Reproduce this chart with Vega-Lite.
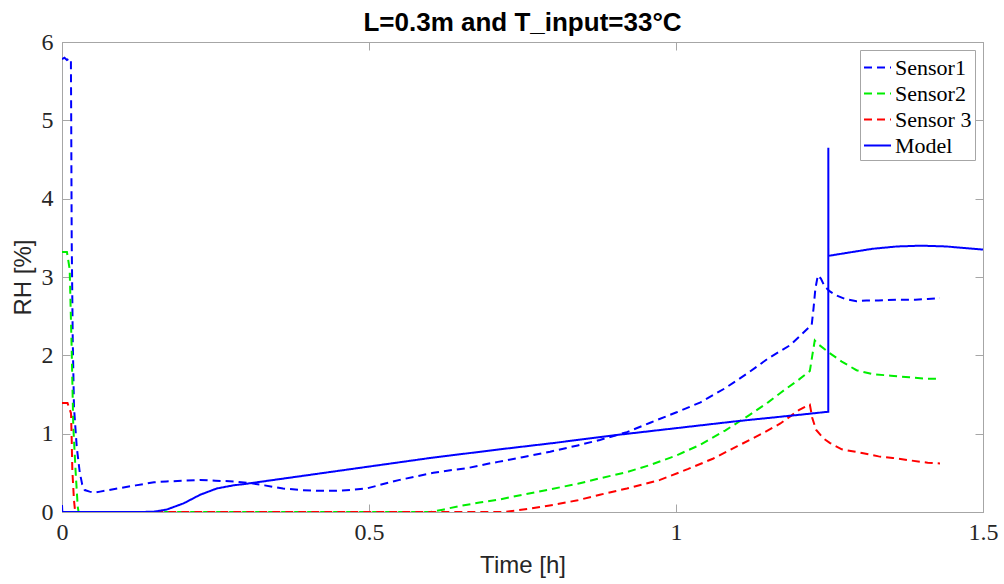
{
"$schema": "https://vega.github.io/schema/vega-lite/v6.json",
"width": 921, "height": 470,
"autosize": {"type": "none"},
"padding": {"left": 62, "top": 42, "right": 21, "bottom": 72},
"background": "white",
"title": {"text": "L=0.3m and T_input=33°C", "font": "Liberation Sans", "fontSize": 26, "fontWeight": "bold", "color": "#000000", "anchor": "middle", "offset": -6},
"config": {
  "view": {"stroke": "#a6a6a6", "strokeWidth": 1},
  "axis": {"grid": false, "domainColor": "#a6a6a6", "tickColor": "#a6a6a6", "tickSize": -8, "labelFont": "Liberation Serif", "labelFontSize": 24, "labelColor": "#262626", "labelFlush": false, "titleFont": "Liberation Sans", "titleFontSize": 24, "titleFontWeight": "normal", "titleColor": "#262626"},
  "legend": {"orient": "top-right", "offset": 8, "symbolType": "stroke", "symbolSize": 729, "symbolStrokeWidth": 2, "labelFont": "Liberation Serif", "labelFontSize": 22, "labelColor": "#000000", "strokeColor": "#a6a6a6", "fillColor": "white", "padding": 3, "rowPadding": 0, "labelOffset": 3}
},
"data": {"values": [
{"s":"Sensor1","t":0,"rh":5.78},{"s":"Sensor1","t":0.004,"rh":5.8},{"s":"Sensor1","t":0.008,"rh":5.77},{"s":"Sensor1","t":0.012,"rh":5.79},{"s":"Sensor1","t":0.0145,"rh":5.78},{"s":"Sensor1","t":0.015,"rh":5.0},{"s":"Sensor1","t":0.0158,"rh":3.47},{"s":"Sensor1","t":0.0175,"rh":2.2},{"s":"Sensor1","t":0.0195,"rh":1.34},{"s":"Sensor1","t":0.024,"rh":0.83},{"s":"Sensor1","t":0.029,"rh":0.5},{"s":"Sensor1","t":0.033,"rh":0.35},{"s":"Sensor1","t":0.037,"rh":0.28},{"s":"Sensor1","t":0.045,"rh":0.26},{"s":"Sensor1","t":0.054,"rh":0.25},{"s":"Sensor1","t":0.062,"rh":0.26},{"s":"Sensor1","t":0.09,"rh":0.3},{"s":"Sensor1","t":0.12,"rh":0.34},{"s":"Sensor1","t":0.15,"rh":0.38},{"s":"Sensor1","t":0.17,"rh":0.39},{"s":"Sensor1","t":0.2,"rh":0.4},{"s":"Sensor1","t":0.225,"rh":0.41},{"s":"Sensor1","t":0.25,"rh":0.4},{"s":"Sensor1","t":0.28,"rh":0.39},{"s":"Sensor1","t":0.306,"rh":0.37},{"s":"Sensor1","t":0.33,"rh":0.34},{"s":"Sensor1","t":0.36,"rh":0.3},{"s":"Sensor1","t":0.39,"rh":0.28},{"s":"Sensor1","t":0.415,"rh":0.27},{"s":"Sensor1","t":0.44,"rh":0.27},{"s":"Sensor1","t":0.469,"rh":0.28},{"s":"Sensor1","t":0.496,"rh":0.3},{"s":"Sensor1","t":0.52,"rh":0.35},{"s":"Sensor1","t":0.55,"rh":0.41},{"s":"Sensor1","t":0.58,"rh":0.46},{"s":"Sensor1","t":0.605,"rh":0.5},{"s":"Sensor1","t":0.63,"rh":0.53},{"s":"Sensor1","t":0.66,"rh":0.56},{"s":"Sensor1","t":0.69,"rh":0.61},{"s":"Sensor1","t":0.71,"rh":0.64},{"s":"Sensor1","t":0.75,"rh":0.7},{"s":"Sensor1","t":0.795,"rh":0.77},{"s":"Sensor1","t":0.84,"rh":0.85},{"s":"Sensor1","t":0.876,"rh":0.92},{"s":"Sensor1","t":0.92,"rh":1.02},{"s":"Sensor1","t":0.958,"rh":1.14},{"s":"Sensor1","t":1.0,"rh":1.27},{"s":"Sensor1","t":1.04,"rh":1.4},{"s":"Sensor1","t":1.08,"rh":1.58},{"s":"Sensor1","t":1.12,"rh":1.79},{"s":"Sensor1","t":1.15,"rh":1.96},{"s":"Sensor1","t":1.186,"rh":2.13},{"s":"Sensor1","t":1.205,"rh":2.27},{"s":"Sensor1","t":1.221,"rh":2.39},{"s":"Sensor1","t":1.224,"rh":2.6},{"s":"Sensor1","t":1.227,"rh":2.85},{"s":"Sensor1","t":1.231,"rh":3.02},{"s":"Sensor1","t":1.236,"rh":2.98},{"s":"Sensor1","t":1.242,"rh":2.88},{"s":"Sensor1","t":1.25,"rh":2.82},{"s":"Sensor1","t":1.26,"rh":2.77},{"s":"Sensor1","t":1.275,"rh":2.72},{"s":"Sensor1","t":1.294,"rh":2.69},{"s":"Sensor1","t":1.31,"rh":2.7},{"s":"Sensor1","t":1.33,"rh":2.7},{"s":"Sensor1","t":1.36,"rh":2.71},{"s":"Sensor1","t":1.39,"rh":2.71},{"s":"Sensor1","t":1.41,"rh":2.72},{"s":"Sensor1","t":1.43,"rh":2.73},
{"s":"Sensor2","t":0,"rh":3.32},{"s":"Sensor2","t":0.008,"rh":3.32},{"s":"Sensor2","t":0.0125,"rh":3.1},{"s":"Sensor2","t":0.0158,"rh":2.07},{"s":"Sensor2","t":0.0184,"rh":1.09},{"s":"Sensor2","t":0.0223,"rh":0.5},{"s":"Sensor2","t":0.0256,"rh":0.07},{"s":"Sensor2","t":0.027,"rh":0},{"s":"Sensor2","t":0.6,"rh":0},{"s":"Sensor2","t":0.62,"rh":0.03},{"s":"Sensor2","t":0.65,"rh":0.08},{"s":"Sensor2","t":0.68,"rh":0.12},{"s":"Sensor2","t":0.713,"rh":0.16},{"s":"Sensor2","t":0.75,"rh":0.22},{"s":"Sensor2","t":0.795,"rh":0.29},{"s":"Sensor2","t":0.84,"rh":0.36},{"s":"Sensor2","t":0.876,"rh":0.43},{"s":"Sensor2","t":0.92,"rh":0.51},{"s":"Sensor2","t":0.958,"rh":0.6},{"s":"Sensor2","t":1.0,"rh":0.72},{"s":"Sensor2","t":1.04,"rh":0.86},{"s":"Sensor2","t":1.08,"rh":1.04},{"s":"Sensor2","t":1.12,"rh":1.24},{"s":"Sensor2","t":1.15,"rh":1.4},{"s":"Sensor2","t":1.17,"rh":1.52},{"s":"Sensor2","t":1.2,"rh":1.69},{"s":"Sensor2","t":1.218,"rh":1.8},{"s":"Sensor2","t":1.222,"rh":2.0},{"s":"Sensor2","t":1.226,"rh":2.19},{"s":"Sensor2","t":1.232,"rh":2.14},{"s":"Sensor2","t":1.25,"rh":2.03},{"s":"Sensor2","t":1.27,"rh":1.92},{"s":"Sensor2","t":1.294,"rh":1.81},{"s":"Sensor2","t":1.32,"rh":1.76},{"s":"Sensor2","t":1.35,"rh":1.74},{"s":"Sensor2","t":1.38,"rh":1.72},{"s":"Sensor2","t":1.41,"rh":1.7},{"s":"Sensor2","t":1.43,"rh":1.7},
{"s":"Sensor 3","t":0,"rh":1.39},{"s":"Sensor 3","t":0.009,"rh":1.39},{"s":"Sensor 3","t":0.0147,"rh":1.26},{"s":"Sensor 3","t":0.0158,"rh":0.92},{"s":"Sensor 3","t":0.0168,"rh":0.54},{"s":"Sensor 3","t":0.0195,"rh":0.15},{"s":"Sensor 3","t":0.0212,"rh":0.02},{"s":"Sensor 3","t":0.022,"rh":0},{"s":"Sensor 3","t":0.72,"rh":0},{"s":"Sensor 3","t":0.76,"rh":0.04},{"s":"Sensor 3","t":0.8,"rh":0.09},{"s":"Sensor 3","t":0.84,"rh":0.15},{"s":"Sensor 3","t":0.876,"rh":0.22},{"s":"Sensor 3","t":0.92,"rh":0.3},{"s":"Sensor 3","t":0.974,"rh":0.41},{"s":"Sensor 3","t":1.02,"rh":0.55},{"s":"Sensor 3","t":1.06,"rh":0.68},{"s":"Sensor 3","t":1.1,"rh":0.84},{"s":"Sensor 3","t":1.14,"rh":1.0},{"s":"Sensor 3","t":1.17,"rh":1.13},{"s":"Sensor 3","t":1.2,"rh":1.3},{"s":"Sensor 3","t":1.212,"rh":1.35},{"s":"Sensor 3","t":1.218,"rh":1.37},{"s":"Sensor 3","t":1.222,"rh":1.2},{"s":"Sensor 3","t":1.228,"rh":1.05},{"s":"Sensor 3","t":1.24,"rh":0.94},{"s":"Sensor 3","t":1.251,"rh":0.88},{"s":"Sensor 3","t":1.27,"rh":0.8},{"s":"Sensor 3","t":1.305,"rh":0.75},{"s":"Sensor 3","t":1.33,"rh":0.71},{"s":"Sensor 3","t":1.353,"rh":0.69},{"s":"Sensor 3","t":1.38,"rh":0.66},{"s":"Sensor 3","t":1.41,"rh":0.63},{"s":"Sensor 3","t":1.43,"rh":0.62},
{"s":"Model","t":0,"rh":0.09},{"s":"Model","t":0.0005,"rh":0},{"s":"Model","t":0.13,"rh":0},{"s":"Model","t":0.15,"rh":0.005},{"s":"Model","t":0.17,"rh":0.03},{"s":"Model","t":0.198,"rh":0.11},{"s":"Model","t":0.225,"rh":0.22},{"s":"Model","t":0.252,"rh":0.3},{"s":"Model","t":0.279,"rh":0.34},{"s":"Model","t":0.3,"rh":0.36},{"s":"Model","t":0.4,"rh":0.47},{"s":"Model","t":0.5,"rh":0.58},{"s":"Model","t":0.6,"rh":0.69},{"s":"Model","t":0.713,"rh":0.8},{"s":"Model","t":0.8,"rh":0.88},{"s":"Model","t":0.9,"rh":0.98},{"s":"Model","t":1.0,"rh":1.07},{"s":"Model","t":1.1,"rh":1.16},{"s":"Model","t":1.2,"rh":1.24},{"s":"Model","t":1.248,"rh":1.28},{"s":"Model","t":1.2481,"rh":4.65},{"s":"Model","t":1.2482,"rh":3.27},{"s":"Model","t":1.28,"rh":3.31},{"s":"Model","t":1.32,"rh":3.36},{"s":"Model","t":1.36,"rh":3.39},{"s":"Model","t":1.4,"rh":3.4},{"s":"Model","t":1.44,"rh":3.39},{"s":"Model","t":1.47,"rh":3.37},{"s":"Model","t":1.5,"rh":3.35}
]},
"layer": [
  {"mark": {"type": "line", "strokeWidth": 2, "clip": true},
   "encoding": {
     "x": {"field": "t", "type": "quantitative", "scale": {"domain": [0, 1.5], "nice": false, "zero": false}, "axis": {"orient": "bottom", "values": [0, 0.5, 1, 1.5], "format": ".1~f", "title": "Time [h]", "labelPadding": 16, "titlePadding": 9}},
     "y": {"field": "rh", "type": "quantitative", "scale": {"domain": [0, 6], "nice": false}, "axis": {"orient": "left", "values": [0, 1, 2, 3, 4, 5, 6], "title": "RH [%]", "labelPadding": 17, "titlePadding": 6}},
     "color": {"field": "s", "type": "nominal", "scale": {"domain": ["Sensor1", "Sensor2", "Sensor 3", "Model"], "range": ["#0000ff", "#00ee00", "#ff0000", "#0000ff"]}, "legend": {"title": null}},
     "strokeDash": {"field": "s", "type": "nominal", "scale": {"domain": ["Sensor1", "Sensor2", "Sensor 3", "Model"], "range": [[8, 5], [8, 5], [8, 5], [1, 0]]}, "legend": {"title": null}}
   }},
  {"mark": {"type": "point", "opacity": 0},
   "encoding": {
     "x": {"field": "t", "type": "quantitative", "scale": {"domain": [0, 1.5], "nice": false, "zero": false}, "axis": {"orient": "top", "values": [0, 0.5, 1, 1.5], "labels": false, "title": null}},
     "y": {"field": "rh", "type": "quantitative", "scale": {"domain": [0, 6], "nice": false}, "axis": {"orient": "right", "values": [0, 1, 2, 3, 4, 5, 6], "labels": false, "title": null}}
   }}
],
"resolve": {"axis": {"x": "independent", "y": "independent"}}
}
